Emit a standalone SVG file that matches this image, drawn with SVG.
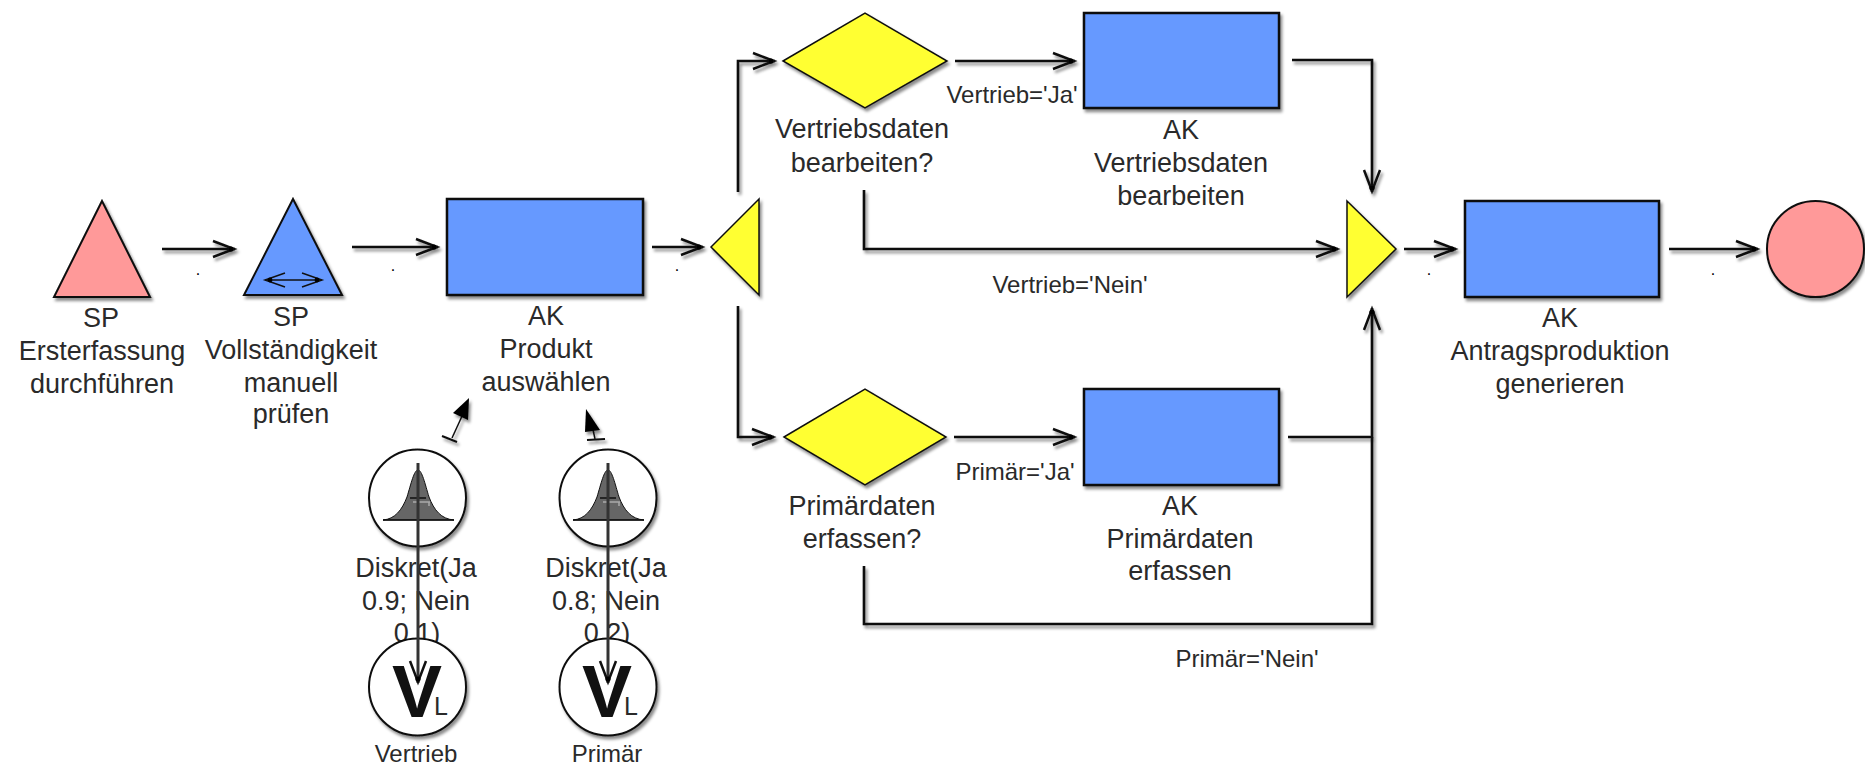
<svg xmlns="http://www.w3.org/2000/svg" width="1865" height="764" viewBox="0 0 1865 764">
<style>
text{font-family:"Liberation Sans",Arial,sans-serif;fill:#2a2a2a;text-anchor:middle}
.t{font-size:27px}
.s{font-size:24px}
.d{font-size:16px;fill:#000}
.box{fill:#6699ff;stroke:#111;stroke-width:2.5;filter:url(#sh)}
.pink{fill:#ff9999;stroke:#111;stroke-width:2;filter:url(#sh)}
.yel{fill:#ffff33;stroke:#111;stroke-width:1.5;filter:url(#sh)}
.w{fill:#fff;stroke:#111;stroke-width:2;filter:url(#sh)}
.c{fill:none;stroke:#111;stroke-width:2.6}
.a{marker-end:url(#ah)}
.bell{fill:#666;stroke:#111;stroke-width:1}
.ln{fill:none;stroke:#111;stroke-width:1.5}
.gr{fill:none;stroke:#aaa;stroke-width:1.5}
.vv{font-size:75px;font-weight:bold;fill:#111}
.ll{font-size:25px}
</style>
<defs>
<filter id="sh" x="-15%" y="-15%" width="135%" height="135%"><feDropShadow dx="2" dy="3" stdDeviation="1.5" flood-color="#000" flood-opacity="0.45"/></filter>
<marker id="ah" markerUnits="userSpaceOnUse" markerWidth="30" markerHeight="24" refX="25" refY="12" orient="auto" overflow="visible"><path d="M3 4 L24 12 L3 20" fill="none" stroke="#111" stroke-width="2.5"/><circle cx="21" cy="12" r="2.6" fill="#000"/></marker>
<marker id="dbl" markerUnits="userSpaceOnUse" markerWidth="24" markerHeight="16" refX="20" refY="8" orient="auto-start-reverse" overflow="visible"><path d="M0 1 L20 8 L0 15" fill="none" stroke="#111" stroke-width="1.5"/><circle cx="15" cy="8" r="2.4" fill="#000"/></marker>
</defs>
<g id="connectors" filter="url(#sh)">
<path class="c a" d="M162 249H235"/>
<path class="c a" d="M352 247H438"/>
<path class="c a" d="M652 247H703"/>
<path class="c a" d="M738 192V61H775"/>
<path class="c a" d="M738 306V437H774"/>
<path class="c a" d="M955 61H1075"/>
<path class="c a" d="M954 437H1075"/>
<path class="c a" d="M1292 60H1372V192"/>
<path class="c a" d="M864 190V249H1338"/>
<path class="c a" d="M1288 437H1372V308"/>
<path class="c" d="M864 566V624H1372V437"/>
<path class="c a" d="M1404 249H1456"/>
<path class="c a" d="M1669 249H1758"/>
<path class="c" style="stroke-width:1.5" d="M452 438L463 414"/>
<path fill="#000" d="M469 398L468 420L453 413Z"/>
<path class="c" style="stroke-width:2" d="M442 436L457 442"/>
<path class="c" style="stroke-width:1.5" d="M595 439L592 425"/>
<path fill="#000" d="M586 409L600 430L585 432Z"/>
<path class="c" style="stroke-width:2" d="M587 440L605 439"/>
</g>
<g id="sp1"><polygon class="pink" points="102,201 54,297 150,297"/>
<text class="t" x="101" y="327">SP</text><text class="t" x="102" y="360">Ersterfassung</text><text class="t" x="102" y="393">durchführen</text></g>
<g id="sp2"><polygon points="293,199 244,295 342,295" fill="#6699ff" stroke="#111" stroke-width="2" filter="url(#sh)"/>
<path d="M265 280H322" class="ln" marker-start="url(#dbl)" marker-end="url(#dbl)"/>
<text class="t" x="291" y="326">SP</text><text class="t" x="291" y="359">Vollständigkeit</text><text class="t" x="291" y="392">manuell</text><text class="t" x="291" y="423">prüfen</text></g>
<g id="ak-produkt"><rect class="box" x="447" y="199" width="196" height="96"/>
<text class="t" x="546" y="325">AK</text><text class="t" x="546" y="358">Produkt</text><text class="t" x="546" y="391">auswählen</text></g>
<g id="split"><polygon class="yel" points="711,247 759,199 759,295"/></g>
<g id="dec-vertrieb"><polygon class="yel" points="783,61 865,13 947,61 865,108"/>
<text class="t" x="862" y="138">Vertriebsdaten</text><text class="t" x="862" y="172">bearbeiten?</text></g>
<g id="ak-vertrieb"><rect class="box" x="1084" y="13" width="195" height="95"/>
<text class="t" x="1181" y="139">AK</text><text class="t" x="1181" y="172">Vertriebsdaten</text><text class="t" x="1181" y="205">bearbeiten</text></g>
<g id="dec-primaer"><polygon class="yel" points="784,437 865,389 946,437 865,485"/>
<text class="t" x="862" y="515">Primärdaten</text><text class="t" x="862" y="548">erfassen?</text></g>
<g id="ak-primaer"><rect class="box" x="1084" y="389" width="195" height="96"/>
<text class="t" x="1180" y="515">AK</text><text class="t" x="1180" y="548">Primärdaten</text><text class="t" x="1180" y="580">erfassen</text></g>
<g id="join"><polygon class="yel" points="1347,201 1396,249 1347,297"/></g>
<g id="ak-antrag"><rect class="box" x="1465" y="201" width="194" height="96"/>
<text class="t" x="1560" y="327">AK</text><text class="t" x="1560" y="360">Antragsproduktion</text><text class="t" x="1560" y="393">generieren</text></g>
<g id="ende"><ellipse class="pink" cx="1815.5" cy="249" rx="48.5" ry="48"/></g>
<g id="dist-vertrieb"><circle class="w" cx="417.5" cy="498" r="48.5"/>
<path class="bell" d="M383 520C395 519 402 510 407 497C411 484 414 470 418 470C422 470 425 484 429 497C434 510 441 519 454 520Z"/>
<path class="ln" d="M418 463V520M383 520H454M410 498H426"/>
<path class="gr" d="M413 502H430M429 502V506"/>
<text class="t" x="416" y="577">Diskret(Ja</text><text class="t" x="416" y="610">0.9; Nein</text><text class="t" x="417" y="642">0.1)</text></g>
<g id="var-vertrieb"><circle class="w" cx="417.5" cy="687" r="48.5"/>
<text class="vv" x="417" y="717">V</text><text class="ll" x="441" y="715">L</text>
<text class="s" x="416" y="762">Vertrieb</text></g>
<g id="dist-primaer"><circle class="w" cx="608" cy="498" r="48.5"/>
<path class="bell" d="M573 520C585 519 592 510 597 497C601 484 604 470 608 470C612 470 615 484 619 497C624 510 631 519 644 520Z"/>
<path class="ln" d="M608 463V520M573 520H644M600 498H616"/>
<path class="gr" d="M603 502H620M619 502V506"/>
<text class="t" x="606" y="577">Diskret(Ja</text><text class="t" x="606" y="610">0.8; Nein</text><text class="t" x="607" y="642">0.2)</text></g>
<g id="var-primaer"><circle class="w" cx="608" cy="687" r="48.5"/>
<text class="vv" x="607" y="717">V</text><text class="ll" x="631" y="715">L</text>
<text class="s" x="607" y="762">Primär</text></g>
<g id="links">
<path d="M418 463V683" style="fill:none;stroke:#333;stroke-width:3" marker-end="url(#ah)"/>
<path d="M608 463V683" style="fill:none;stroke:#333;stroke-width:3" marker-end="url(#ah)"/>
</g>
<g id="labels">
<text class="s" x="1012" y="103">Vertrieb='Ja'</text>
<text class="s" x="1070" y="293">Vertrieb='Nein'</text>
<text class="s" x="1015" y="480">Primär='Ja'</text>
<text class="s" x="1247" y="667">Primär='Nein'</text>
<text class="d" x="198" y="275">.</text>
<text class="d" x="393" y="271">.</text>
<text class="d" x="677" y="271">.</text>
<text class="d" x="1429" y="275">.</text>
<text class="d" x="1713" y="275">.</text>
</g>
</svg>
